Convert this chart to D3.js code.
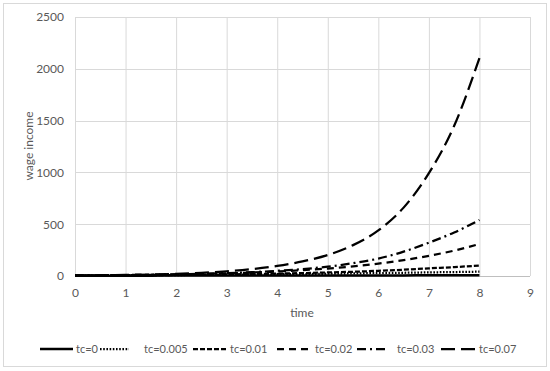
<!DOCTYPE html>
<html><head><meta charset="utf-8">
<script src="https://cdn.jsdelivr.net/npm/d3@7"></script>
<style>body{margin:0;background:#fff}svg{display:block}text{font-family:Lato,"Liberation Sans",sans-serif;fill:#595959}</style>
</head><body><svg id="c" width="550" height="371"></svg>
<script>
const time = [0,0.5,1,1.5,2,2.5,3,3.5,4,4.5,5,5.5,6,6.5,7,7.5,8];
const tc0    = [3,3,3.5,3.5,4,4,4.5,4.5,5,5,5.5,5.5,6,6,6.5,6.5,7];
const tc0005 = [4,5,6,7.5,9,11,13,15,17,19,22,25,28,31,35,38,42];
const tc001  = [4,5,7,8,10,12,15,19,23,28,34,41,50,61,74,86,100];
const tc002  = [5,7,9,12,15,20,26,33,43,56,72,93,120,153,195,245,309];
const tc003  = [5,7,9,12,16,21,28,37,50,67,90,124,168,235,322,420,541];
const tc007  = [4.5,6.6,10,14.5,21,31,45,66,97,141,203,298,440,660,993,1450,2103];
const seriesNames = ["tc=0","tc=0.005","tc=0.01","tc=0.02","tc=0.03","tc=0.07"];
const seriesValues = [tc0,tc0005,tc001,tc002,tc003,tc007];
const xTicks = [0,1,2,3,4,5,6,7,8,9];
const yTicks = [0,500,1000,1500,2000,2500];
const dashes = ["none","1.6,1.6","5,2","7,5","9,4,2,4","14,6"];

const svg = d3.select("#c");
svg.append("rect").attr("x",3.5).attr("y",3.5).attr("width",543).attr("height",363)
  .attr("fill","#fff").attr("stroke","#d9d9d9");
const x = d3.scaleLinear().domain([0,9]).range([75,530]);
const y = d3.scaleLinear().domain([0,2500]).range([276,17]);

const g = svg.append("g");
g.selectAll("line.v").data(xTicks).join("line").attr("x1",d=>x(d)+0.5).attr("x2",d=>x(d)+0.5)
  .attr("y1",y(2500)).attr("y2",y(0)).attr("stroke","#d9d9d9");
g.selectAll("line.h").data(yTicks).join("line").attr("y1",d=>Math.round(y(d))+0.5).attr("y2",d=>Math.round(y(d))+0.5)
  .attr("x1",x(0)).attr("x2",x(9)).attr("stroke",d=>d===0?"#bfbfbf":"#d9d9d9");

const xa = svg.append("g").attr("transform","translate(0,"+y(0)+")")
  .call(d3.axisBottom(x).tickValues(xTicks).tickFormat(d3.format("d")).tickSize(0).tickPadding(12));
xa.select(".domain").remove();
xa.selectAll("text").attr("font-size",12).style("fill","#595959").style("font-family","Lato");
const ya = svg.append("g").attr("transform","translate("+x(0)+",0)")
  .call(d3.axisLeft(y).tickValues(yTicks).tickFormat(d3.format("d")).tickSize(0).tickPadding(11));
ya.select(".domain").remove();
ya.selectAll("text").attr("font-size",12).style("fill","#595959").style("font-family","Lato");

svg.append("text").attr("x",302).attr("y",317).attr("text-anchor","middle").attr("font-size",12).text("time");
svg.append("text").attr("transform","translate(33,146) rotate(-90)").attr("text-anchor","middle").attr("font-size",12).text("wage income");

const line = d3.line().curve(d3.curveMonotoneX).x((d,i)=>x(time[i])).y(d=>y(d));
seriesValues.forEach((vals,k)=>{
  svg.append("path").datum(vals).attr("d",line).attr("fill","none").attr("stroke","#000")
    .attr("stroke-width",k===0?2.5:2.25).attr("stroke-dasharray",dashes[k]);
});

const legX = [40,100,193,277,357,441];
const legLen = [33,29,33,34,31,36];
const ly = 349;
seriesNames.forEach((n,k)=>{
  svg.append("line").attr("x1",legX[k]).attr("x2",legX[k]+legLen[k]).attr("y1",ly).attr("y2",ly)
    .attr("stroke","#000").attr("stroke-width",k===0?2.5:2.25).attr("stroke-dasharray",dashes[k]);
});
const legTX = [76,144,230,315,397,479];
seriesNames.forEach((n,k)=>{
  svg.append("text").attr("x",legTX[k]).attr("y",ly+4).attr("font-size",11).text(n);
});
</script></body></html>
